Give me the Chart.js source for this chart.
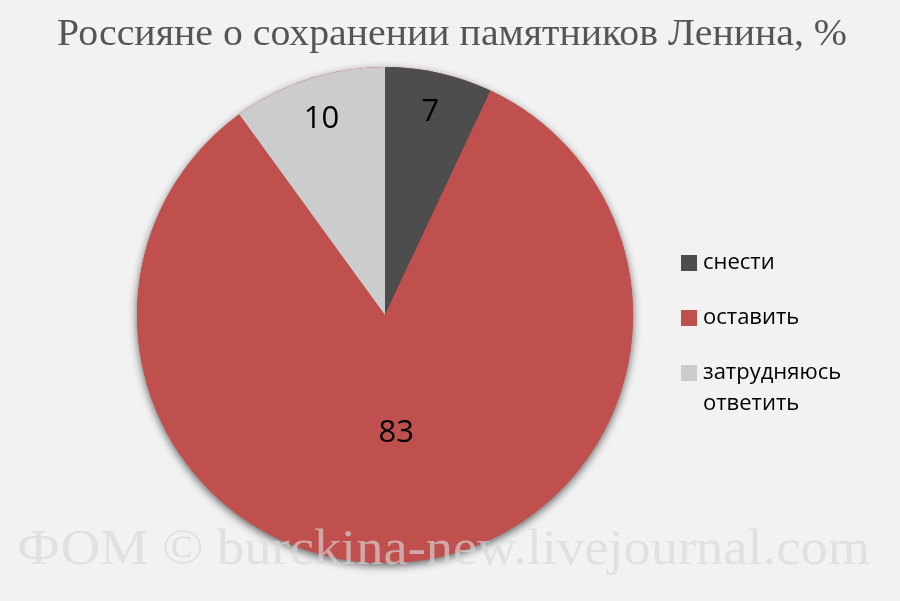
<!DOCTYPE html>
<html>
<head>
<meta charset="utf-8">
<script src="https://cdn.jsdelivr.net/npm/chart.js@4"></script>
<style>
    html, body { margin: 0; padding: 0; background: #f2f2f2; }
    #wrap { position: relative; width: 900px; height: 601px; }
</style>
</head>
<body>
<div id="wrap"><canvas id="pie-chart" width="900" height="601"></canvas></div>
<script>
const categories = ['снести', 'оставить', ['затрудняюсь', 'ответить']];
const values = [7, 83, 10];
const colors = ['#4d4d4d', '#c0504d', '#cccccc'];
const titleText = 'Россияне о сохранении памятников Ленина, %';
const watermarkText = 'ФОМ © burckina-new.livejournal.com';

// how far from centre each value label sits (share of radius)
const labelRadius = [0.84, 0.48, 0.83];

const decorPlugin = {
    id: 'decor',
    beforeDatasetsDraw(chart) {
        // soft shadow under the pie
        const arc = chart.getDatasetMeta(0).data[0];
        const ctx = chart.ctx;
        ctx.save();
        ctx.shadowColor = 'rgba(0,0,0,0.6)';
        ctx.shadowBlur = 9;
        ctx.shadowOffsetY = 3;
        ctx.fillStyle = '#c0504d';
        ctx.beginPath();
        ctx.arc(arc.x, arc.y, arc.outerRadius, 0, Math.PI * 2);
        ctx.fill();
        ctx.restore();
    },
    afterDatasetsDraw(chart) {
        const ctx = chart.ctx;
        const meta = chart.getDatasetMeta(0);

        // value labels
        ctx.save();
        ctx.font = '31px "Open Sans", sans-serif';
        ctx.fillStyle = '#000';
        ctx.textAlign = 'center';
        ctx.textBaseline = 'middle';
        meta.data.forEach((arc, i) => {
            const mid = (arc.startAngle + arc.endAngle) / 2;
            const r = arc.outerRadius * labelRadius[i];
            ctx.fillText(String(values[i]), arc.x + Math.cos(mid) * r, arc.y + Math.sin(mid) * r);
        });
        ctx.restore();

        // title
        ctx.save();
        ctx.font = '38px "Liberation Serif", serif';
        ctx.fillStyle = '#555555';
        ctx.textBaseline = 'alphabetic';
        let w = ctx.measureText(titleText).width;
        ctx.translate(57, 45);
        ctx.scale(790 / w, 1);
        ctx.fillText(titleText, 0, 0);
        ctx.restore();

        // legend
        ctx.save();
        ctx.font = '22px "Open Sans", sans-serif';
        ctx.textBaseline = 'middle';
        const rows = [263, 318, 373];
        categories.forEach((lab, i) => {
            ctx.fillStyle = colors[i];
            ctx.fillRect(681, rows[i] - 8, 16, 16);
            ctx.fillStyle = '#000';
            const lines = Array.isArray(lab) ? lab : [lab];
            lines.forEach((t, j) => ctx.fillText(t, 703, rows[i] + j * 31));
        });
        ctx.restore();

        // watermark
        ctx.save();
        ctx.font = '51px "Liberation Serif", serif';
        ctx.fillStyle = 'rgba(215,215,215,0.65)';
        ctx.textBaseline = 'alphabetic';
        w = ctx.measureText(watermarkText).width;
        ctx.translate(17, 564);
        ctx.scale(853 / w, 1);
        ctx.fillText(watermarkText, 0, 0);
        ctx.restore();
    }
};

const ctx = document.getElementById('pie-chart').getContext('2d');
new Chart(ctx, {
    type: 'pie',
    data: {
        labels: categories,
        datasets: [{
            data: values,
            backgroundColor: colors,
            borderWidth: 0
        }]
    },
    options: {
        responsive: false,
        animation: false,
        layout: {
            padding: { left: 137, right: 267, top: 67, bottom: 38 }
        },
        plugins: {
            legend: { display: false },
            tooltip: { enabled: false }
        }
    },
    plugins: [decorPlugin]
});
</script>
</body>
</html>
